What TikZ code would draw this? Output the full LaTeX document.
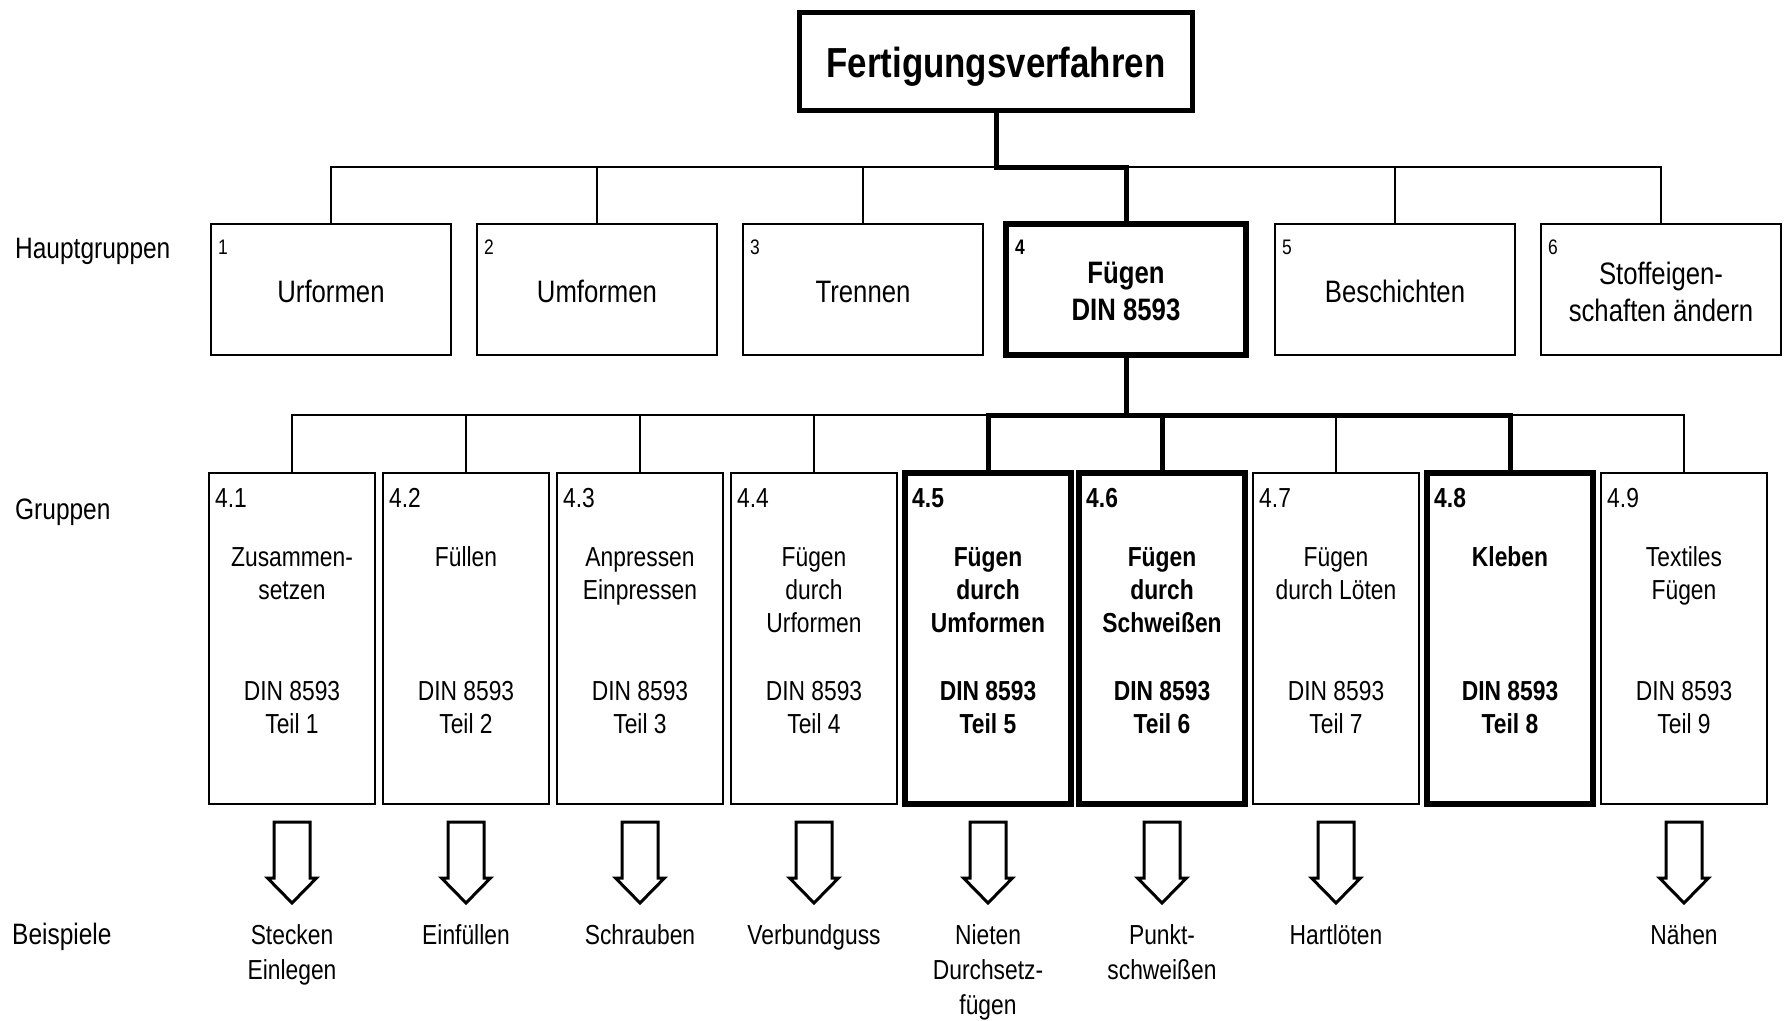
\documentclass[tikz,border=0pt]{standalone}
\usepackage{fontspec}
\setmainfont[FakeStretch=0.83]{Liberation Sans}
\usetikzlibrary{calc}
\newcommand\ftitlefont{\fontsize{42}{50}\selectfont\bfseries}
\newcommand\fmainfont{\fontsize{31}{37}\selectfont}
\newcommand\fmainnum{\fontsize{21}{25}\selectfont}
\newcommand\fgrpfont{\fontsize{27.5}{33}\selectfont}
\newcommand\fexfont{\fontsize{27.5}{35}\selectfont}
\newcommand\fsidefont{\fontsize{29.5}{35}\selectfont}
\tikzset{
  thinline/.style={line width=2.6pt},
  thickline/.style={line width=5pt},
  hbox/.style={draw, line width=2.5pt, minimum width=240pt, minimum height=131pt, inner sep=0pt, outer sep=0pt},
  hboxb/.style={hbox, line width=5.5pt},
  gbox/.style={draw, line width=2.5pt, minimum width=166pt, minimum height=331pt, inner sep=0pt, outer sep=0pt},
  gboxb/.style={gbox, line width=5.5pt},
  topbox/.style={draw, line width=5pt, minimum width=393pt, minimum height=98pt, inner sep=0pt, outer sep=0pt},
  txt/.style={inner sep=0pt, outer sep=0pt, align=center, anchor=base},
  htext/.style={txt, font=\fmainfont},
  hnum/.style={inner sep=0pt, anchor=base west, font=\fmainnum},
  gtext/.style={txt, font=\fgrpfont},
  gnum/.style={inner sep=0pt, anchor=base west, font=\fgrpfont},
  extext/.style={txt, font=\fexfont},
  sidelabel/.style={inner sep=0pt, anchor=base west, font=\fsidefont},
  blockarrow/.pic={\draw[line width=3pt, line join=miter] (-18,0) -- (18,0) -- (18,56) -- (24.5,56) -- (0,81) -- (-24.5,56) -- (-18,56) -- cycle;}
}
\begin{document}
\begin{tikzpicture}[x=1pt,y=-1pt]
\useasboundingbox (0,0) rectangle (1787,1020);
\fill[white] (0,0) rectangle (1787,1020);

% title
\node[topbox] (top) at (996,61.5) {};
\node[txt, font=\ftitlefont] (toptext) at (996,77) {Fertigungsverfahren};

% side labels
\node[sidelabel] (lab1) at (15,258) {Hauptgruppen};
\node[sidelabel] (lab2) at (15,519) {Gruppen};
\node[sidelabel] (lab3) at (12,944) {Beispiele};

% main groups
\node[hbox]  (h1) at (331,289.5) {};
\node[hbox]  (h2) at (597,289.5) {};
\node[hbox]  (h3) at (863,289.5) {};
\node[hboxb] (h4) at (1126,289.5) {};
\node[hbox]  (h5) at (1395,289.5) {};
\node[hbox]  (h6) at (1661,289.5) {};

\node[hnum] (h1n) at (218,254) {1};
\node[hnum] (h2n) at (484,254) {2};
\node[hnum] (h3n) at (750,254) {3};
\node[hnum, font=\fmainnum\bfseries] (h4n) at (1015,254) {4};
\node[hnum] (h5n) at (1282,254) {5};
\node[hnum] (h6n) at (1548,254) {6};

\node[htext] (h1t) at (331,302) {Urformen};
\node[htext] (h2t) at (597,302) {Umformen};
\node[htext] (h3t) at (863,302) {Trennen};
\node[htext, font=\fmainfont\bfseries] (h4t) at (1126,320) {Fügen\\DIN 8593};
\node[htext] (h5t) at (1395,302) {Beschichten};
\node[htext] (h6t) at (1661,321) {Stoffeigen-\\schaften ändern};

% groups
\node[gbox]  (g1) at (292,638.5) {};
\node[gbox]  (g2) at (466,638.5) {};
\node[gbox]  (g3) at (640,638.5) {};
\node[gbox]  (g4) at (814,638.5) {};
\node[gboxb] (g5) at (988,638.5) {};
\node[gboxb] (g6) at (1162,638.5) {};
\node[gbox]  (g7) at (1336,638.5) {};
\node[gboxb] (g8) at (1510,638.5) {};
\node[gbox]  (g9) at (1684,638.5) {};

\node[gnum] (g1n) at (215,507) {4.1};
\node[gnum] (g2n) at (389,507) {4.2};
\node[gnum] (g3n) at (563,507) {4.3};
\node[gnum] (g4n) at (737,507) {4.4};
\node[gnum, font=\fgrpfont\bfseries] (g5n) at (912,507) {4.5};
\node[gnum, font=\fgrpfont\bfseries] (g6n) at (1086,507) {4.6};
\node[gnum] (g7n) at (1259,507) {4.7};
\node[gnum, font=\fgrpfont\bfseries] (g8n) at (1434,507) {4.8};
\node[gnum] (g9n) at (1607,507) {4.9};

% anchor=base is the baseline of the last line
\node[gtext] (g1t) at (292,599) {Zusammen-\\setzen};
\node[gtext] (g2t) at (466,566) {Füllen};
\node[gtext] (g3t) at (640,599) {Anpressen\\Einpressen};
\node[gtext] (g4t) at (814,632) {Fügen\\durch\\Urformen};
\node[gtext, font=\fgrpfont\bfseries] (g5t) at (988,632) {Fügen\\durch\\Umformen};
\node[gtext, font=\fgrpfont\bfseries] (g6t) at (1162,632) {Fügen\\durch\\Schweißen};
\node[gtext] (g7t) at (1336,599) {Fügen\\durch Löten};
\node[gtext, font=\fgrpfont\bfseries] (g8t) at (1510,566) {Kleben};
\node[gtext] (g9t) at (1684,599) {Textiles\\Fügen};

\node[gtext] (g1d) at (292,733) {DIN 8593\\Teil 1};
\node[gtext] (g2d) at (466,733) {DIN 8593\\Teil 2};
\node[gtext] (g3d) at (640,733) {DIN 8593\\Teil 3};
\node[gtext] (g4d) at (814,733) {DIN 8593\\Teil 4};
\node[gtext, font=\fgrpfont\bfseries] (g5d) at (988,733) {DIN 8593\\Teil 5};
\node[gtext, font=\fgrpfont\bfseries] (g6d) at (1162,733) {DIN 8593\\Teil 6};
\node[gtext] (g7d) at (1336,733) {DIN 8593\\Teil 7};
\node[gtext, font=\fgrpfont\bfseries] (g8d) at (1510,733) {DIN 8593\\Teil 8};
\node[gtext] (g9d) at (1684,733) {DIN 8593\\Teil 9};

% connectors level 1
\coordinate (bus1) at (996,167);
\draw[thinline] (h1.north) |- (h6.north |- bus1) -- (h6.north);
\foreach \i in {2,3,5} \draw[thinline] (h\i.north) -- (h\i.north |- bus1);
\draw[thickline] (top.south) -- (bus1) -| (h4.north);

% connectors level 2
\coordinate (bus2) at (1126,415);
\draw[thinline] (g1.north) |- (g9.north |- bus2) -- (g9.north);
\foreach \i in {2,3,4,7} \draw[thinline] (g\i.north) -- (g\i.north |- bus2);
\draw[thickline] (g5.north) |- (g8.north |- bus2) -- (g8.north);
\draw[thickline] (g6.north) -- (g6.north |- bus2);
\draw[thickline] (h4.south) -- (bus2);

% block arrows
\foreach \i in {1,2,3,4,5,6,7,9} \pic at ([yshift=-18pt]g\i.south) {blockarrow};

% examples (anchor=base: last line)
\node[extext] (e1) at (292,979) {Stecken\\Einlegen};
\node[extext] (e2) at (466,944) {Einfüllen};
\node[extext] (e3) at (640,944) {Schrauben};
\node[extext] (e4) at (814,944) {Verbundguss};
\node[extext] (e5) at (988,1014) {Nieten\\Durchsetz-\\fügen};
\node[extext] (e6) at (1162,979) {Punkt-\\schweißen};
\node[extext] (e7) at (1336,944) {Hartlöten};
\node[extext] (e9) at (1684,944) {Nähen};
\end{tikzpicture}
\end{document}
